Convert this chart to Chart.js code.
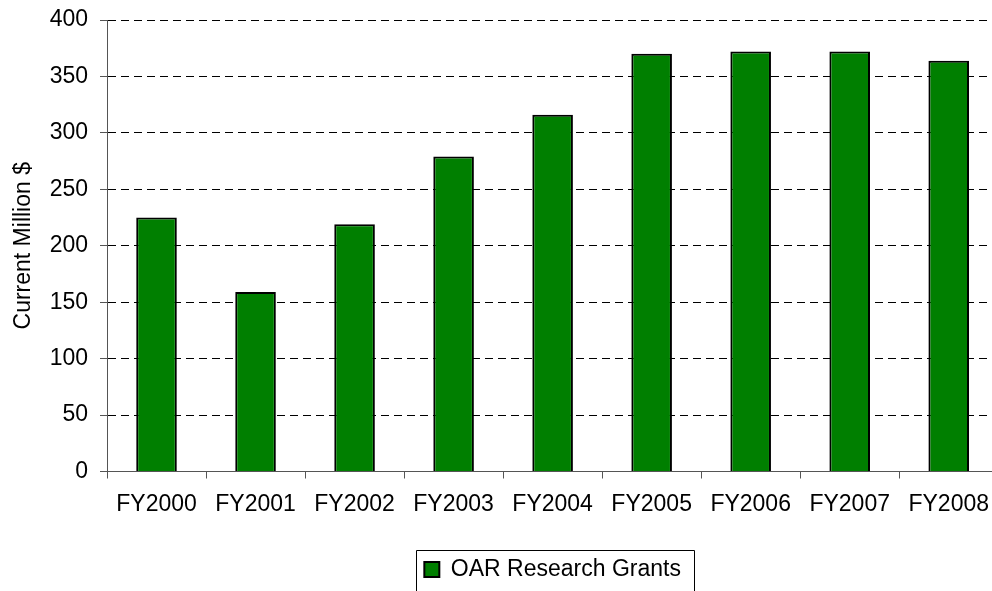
<!DOCTYPE html>
<html>
<head>
<meta charset="utf-8">
<script src="https://cdn.jsdelivr.net/npm/chart.js@4/dist/chart.umd.min.js"></script>
<style>
  html, body { margin: 0; padding: 0; background: #fff; overflow: hidden; }
  #wrap { width: 1001px; height: 591px; }
</style>
</head>
<body>
<div id="wrap"><canvas id="c" width="1001" height="591"></canvas></div>
<script>
const categories = ["FY2000", "FY2001", "FY2002", "FY2003", "FY2004", "FY2005", "FY2006", "FY2007", "FY2008"];
const grantValues = [225, 159, 219, 279, 316, 370, 372, 372, 364];
const seriesName = "OAR Research Grants";
const yAxisTitle = "Current Million $";
const yTicks = [0, 50, 100, 150, 200, 250, 300, 350, 400];

const FONT = "'Liberation Sans', Arial, sans-serif";

const legendBorder = {
  id: 'legendBorder',
  afterDraw(chart) {
    const lg = chart.legend;
    if (!lg || !lg.legendHitBoxes || !lg.legendHitBoxes.length) return;
    const hb = lg.legendHitBoxes[0];
    const ctx = chart.ctx;
    ctx.save();
    ctx.strokeStyle = '#000';
    ctx.lineWidth = 1;
    const l = Math.round(hb.left - 8) + 0.5;
    const r = Math.round(hb.left + hb.width + 13) + 0.5;
    const t = Math.round(lg.top) + 0.5;
    const b = chart.height + 5;
    ctx.beginPath();
    ctx.moveTo(l, b);
    ctx.lineTo(l, t);
    ctx.lineTo(r, t);
    ctx.lineTo(r, b);
    ctx.stroke();
    ctx.restore();
  }
};

new Chart(document.getElementById('c'), {
  type: 'bar',
  data: {
    labels: categories,
    datasets: [{
      label: seriesName,
      data: grantValues,
      backgroundColor: '#007f00',
      borderColor: '#000',
      borderWidth: 2,
      barPercentage: 0.41,
      categoryPercentage: 1.0
    }]
  },
  options: {
    responsive: false,
    animation: false,
    devicePixelRatio: 1,
    layout: { padding: { top: 20, right: 0, bottom: 0, left: 0 } },
    plugins: {
      legend: {
        position: 'bottom',
        fullSize: false,
        labels: {
          color: '#000',
          font: { family: FONT, size: 23 },
          boxWidth: 15,
          boxHeight: 15,
          padding: 8
        }
      },
      tooltip: { enabled: false },
      title: { display: false }
    },
    scales: {
      x: {
        offset: true,
        grid: {
          display: true,
          offset: true,
          drawOnChartArea: false,
          drawTicks: true,
          tickLength: 7,
          tickColor: '#555',
          tickWidth: 1
        },
        border: { display: true, color: '#555', width: 1 },
        ticks: {
          color: '#000',
          font: { family: FONT, size: 23 },
          padding: 12,
          maxRotation: 0,
          autoSkip: false
        },
        afterFit(scale) { scale.height = 78.5; }
      },
      y: {
        min: 0,
        max: 400,
        afterBuildTicks(scale) { scale.ticks = yTicks.map(v => ({ value: v })); },
        grid: {
          display: true,
          color: '#000',
          lineWidth: 1,
          drawTicks: true,
          tickLength: 7,
          tickColor: '#555',
          tickWidth: 1,
          tickBorderDash: []
        },
        border: { display: true, color: '#555', width: 1, dash: [8, 5] },
        ticks: {
          color: '#000',
          font: { family: FONT, size: 23 },
          padding: 12
        },
        title: {
          display: true,
          text: yAxisTitle,
          color: '#000',
          font: { family: FONT, size: 23 },
          padding: { top: 10, bottom: 0 }
        },
        afterFit(scale) {
          scale.width = 107;
          scale.paddingTop = 0;
          scale.paddingBottom = 0;
        }
      }
    }
  },
  plugins: [legendBorder]
});
</script>
</body>
</html>
